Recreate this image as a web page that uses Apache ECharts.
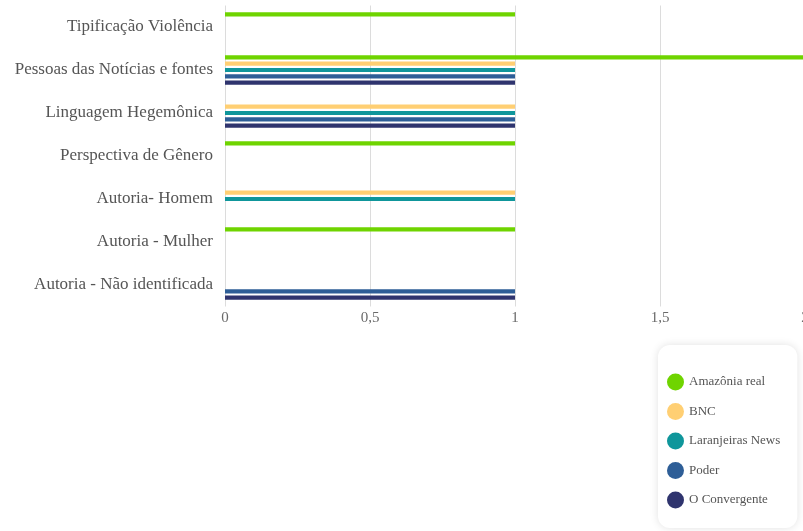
<!DOCTYPE html>
<html>
<head>
<meta charset="utf-8">
<script src="https://cdn.jsdelivr.net/npm/echarts@6/dist/echarts.min.js"></script>
<style>
html,body{margin:0;padding:0;background:#fff;}
#c{width:803px;height:531px;}
</style>
</head>
<body>
<div id="c"></div>
<script>
const categories = [
  'Tipificação Violência',
  'Pessoas das Notícias e fontes',
  'Linguagem Hegemônica',
  'Perspectiva de Gênero',
  'Autoria- Homem',
  'Autoria - Mulher',
  'Autoria - Não identificada'
];
const seriesNames = ['Amazônia real', 'BNC', 'Laranjeiras News', 'Poder', 'O Convergente'];
const amazoniaReal = [1, 2, 0, 1, 0, 1, 0];
const bnc = [0, 1, 1, 0, 1, 0, 0];
const laranjeirasNews = [0, 1, 1, 0, 1, 0, 0];
const poder = [0, 1, 1, 0, 0, 0, 1];
const oConvergente = [0, 1, 1, 0, 0, 0, 1];
const xTicks = [0, 0.5, 1, 1.5, 2];

const colors = ['#6fd400', '#ffcf73', '#0f969b', '#2e5e97', '#2f346e'];
const seriesData = [amazoniaReal, bnc, laranjeirasNews, poder, oConvergente];
const font = '"Liberation Serif", "DejaVu Serif", serif';

const chart = echarts.init(document.getElementById('c'), null, {renderer: 'canvas'});
chart.setOption({
  animation: false,
  color: colors,
  grid: {left: 225, width: 580, top: 5.5, height: 301, containLabel: false, outerBoundsMode: 'none'},
  xAxis: {
    type: 'value',
    min: xTicks[0], max: xTicks[xTicks.length - 1], interval: 0.5,
    axisLine: {show: false},
    axisTick: {show: false},
    splitLine: {show: true, lineStyle: {color: '#dcdcdc', width: 1}},
    axisLabel: {
      color: '#6a6a6a', fontFamily: font, fontSize: 15, margin: 4,
      formatter: v => String(v).replace('.', ',')
    }
  },
  yAxis: {
    type: 'category',
    data: categories,
    inverse: true,
    axisLine: {show: false},
    axisTick: {show: false},
    splitLine: {show: false},
    axisLabel: {color: '#555', fontFamily: font, fontSize: 17, margin: 12}
  },
  legend: {
    orient: 'vertical',
    left: 658, top: 345,
    data: seriesNames,
    icon: 'circle',
    itemWidth: 17, itemHeight: 17,
    itemGap: 12.5,
    padding: [28.5, 17, 19.5, 9],
    backgroundColor: '#fff',
    borderRadius: 12,
    shadowBlur: 8,
    shadowColor: 'rgba(0,0,0,0.12)',
    textStyle: {color: '#555', fontFamily: font, fontSize: 13}
  },
  series: seriesNames.map((n, i) => ({
    name: n,
    type: 'bar',
    data: seriesData[i],
    barWidth: 4.2,
    barGap: '50%',
    barCategoryGap: '30%'
  }))
});
</script>
</body>
</html>
